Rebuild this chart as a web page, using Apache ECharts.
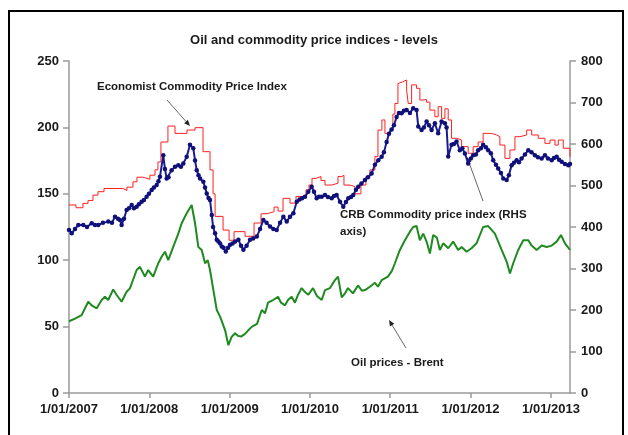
<!DOCTYPE html>
<html>
<head>
<meta charset="utf-8">
<script src="https://cdn.jsdelivr.net/npm/echarts@6/dist/echarts.min.js"></script>
<style>
  html, body { margin: 0; padding: 0; background: #fff; }
  #chart { width: 628px; height: 435px; }
</style>
</head>
<body>
<div id="chart"></div>
<script>
  // dates are decimal years
  var xTickYears = [2007, 2008, 2009, 2010, 2011, 2012, 2013];
  var xTickLabels = ['1/01/2007', '1/01/2008', '1/01/2009', '1/01/2010', '1/01/2011', '1/01/2012', '1/01/2013'];
  var leftTicks = [0, 50, 100, 150, 200, 250];
  var rightTicks = [0, 100, 200, 300, 400, 500, 600, 700, 800];

  /* Economist commodity price index (left axis, stepped) */
  var econYears = [
    2007.000, 2007.087, 2007.174, 2007.237, 2007.299, 2007.361, 2007.436, 2007.672, 2007.722, 2007.797,
    2007.847, 2007.921, 2008.008, 2008.071, 2008.108, 2008.145, 2008.232, 2008.320, 2008.469, 2008.569,
    2008.668, 2008.755, 2008.793, 2008.818, 2008.917, 2008.992, 2009.054, 2009.191, 2009.303, 2009.390,
    2009.465, 2009.552, 2009.602, 2009.664, 2009.751, 2009.826, 2009.900, 2009.950, 2009.988, 2010.025,
    2010.075, 2010.137, 2010.187, 2010.274, 2010.349, 2010.398, 2010.423, 2010.498, 2010.560, 2010.635,
    2010.697, 2010.747, 2010.809, 2010.847, 2010.896, 2010.934, 2010.996, 2011.033, 2011.058, 2011.096,
    2011.120, 2011.158, 2011.204, 2011.224, 2011.266, 2011.328, 2011.369, 2011.407, 2011.453, 2011.494,
    2011.556, 2011.597, 2011.640, 2011.681, 2011.722, 2011.764, 2011.826, 2011.889, 2011.971, 2012.033,
    2012.095, 2012.157, 2012.262, 2012.324, 2012.365, 2012.428, 2012.490, 2012.552, 2012.614, 2012.698,
    2012.760, 2012.842, 2012.925, 2012.988, 2013.050, 2013.091, 2013.153, 2013.237
  ];
  var econValues = [
    141.6, 139.5, 142.8, 145, 149, 151.6, 154, 152.5, 155, 159,
    162.5, 161, 164, 168, 174, 189, 201, 195.5, 198, 199.8,
    181.7, 168, 150, 133, 122.7, 115, 121.5, 118, 128, 135,
    136.5, 140, 137, 146.6, 143, 148, 149, 153, 156.6, 161.6,
    163, 160, 156.6, 158, 163, 164, 156.6, 155.4, 150, 156.6,
    163, 168, 178, 198, 205.6, 195.5, 198, 210, 218, 233,
    234.4, 235.7, 228, 218, 232, 229.4, 220.6, 221, 219, 213,
    208, 215.6, 206.8, 214, 205.6, 191.8, 190.5, 185.5, 180.5, 185.5,
    189, 195.5, 194.3, 193, 186.7, 176.7, 183, 193, 194.3, 198,
    194.3, 191.8, 188, 190.5, 186.7, 190.5, 184.3, 178
  ];

  /* Brent oil price (left axis) */
  var brentYears = [
    2007.000, 2007.012, 2007.075, 2007.158, 2007.240, 2007.283, 2007.345, 2007.407, 2007.448, 2007.489,
    2007.551, 2007.594, 2007.656, 2007.718, 2007.759, 2007.843, 2007.884, 2007.946, 2007.987, 2008.049,
    2008.112, 2008.154, 2008.195, 2008.236, 2008.298, 2008.361, 2008.403, 2008.465, 2008.527, 2008.569,
    2008.610, 2008.652, 2008.693, 2008.727, 2008.755, 2008.796, 2008.839, 2008.880, 2008.942, 2008.983,
    2009.025, 2009.067, 2009.104, 2009.141, 2009.191, 2009.228, 2009.278, 2009.340, 2009.399, 2009.440,
    2009.477, 2009.540, 2009.602, 2009.639, 2009.689, 2009.726, 2009.772, 2009.813, 2009.851, 2009.897,
    2009.938, 2009.979, 2010.037, 2010.087, 2010.146, 2010.187, 2010.249, 2010.311, 2010.349, 2010.395,
    2010.436, 2010.473, 2010.535, 2010.598, 2010.647, 2010.685, 2010.747, 2010.809, 2010.847, 2010.893,
    2010.971, 2011.021, 2011.058, 2011.120, 2011.183, 2011.245, 2011.286, 2011.328, 2011.369, 2011.411,
    2011.453, 2011.494, 2011.535, 2011.581, 2011.618, 2011.660, 2011.722, 2011.784, 2011.846, 2011.889,
    2011.951, 2012.013, 2012.075, 2012.157, 2012.220, 2012.303, 2012.387, 2012.449, 2012.490, 2012.531,
    2012.593, 2012.656, 2012.718, 2012.760, 2012.822, 2012.884, 2012.947, 2013.009, 2013.071, 2013.125,
    2013.174, 2013.237
  ];
  var brentValues = [
    54, 52.5, 56, 58.7, 68.7, 66, 63.8, 70, 72.5, 70,
    78, 73.8, 68.7, 76.3, 78.8, 92.6, 95, 87.6, 92.6, 87.6,
    97.7, 102.6, 106.4, 100, 110, 120, 127.8, 135.3, 141.6, 127.8,
    110, 107.7, 97.7, 100, 92.6, 77.6, 62.5, 57.5, 47.4, 36,
    42.4, 45, 43, 42.5, 44.5, 47, 50, 52, 62.5, 60,
    68, 70, 72.5, 68, 66, 70, 72.5, 68, 74, 79,
    76, 74, 79, 73, 70, 77.5, 79, 85, 87.6, 72,
    75, 79, 75, 81, 77, 77.5, 80, 83, 80, 85,
    87.6, 92, 97.7, 107.7, 115, 121.5, 125, 125.7, 115, 120,
    114, 105, 119, 117, 107.7, 112.7, 109, 114, 107.7, 110,
    106.4, 109, 112.7, 125, 125.7, 120, 107.7, 99, 90, 97.7,
    107.7, 115, 115, 111, 107.7, 111, 110, 111, 114, 119,
    112.7, 107.7
  ];

  /* CRB commodity price index (right axis) */
  var crbYears = [
    2007.000, 2007.034, 2007.075, 2007.116, 2007.178, 2007.224, 2007.283, 2007.324, 2007.365, 2007.423,
    2007.489, 2007.535, 2007.573, 2007.610, 2007.635, 2007.656, 2007.685, 2007.718, 2007.747, 2007.781,
    2007.809, 2007.843, 2007.871, 2007.905, 2007.934, 2007.967, 2007.996, 2008.030, 2008.058, 2008.092,
    2008.114, 2008.133, 2008.174, 2008.195, 2008.216, 2008.239, 2008.278, 2008.320, 2008.361, 2008.394,
    2008.423, 2008.465, 2008.506, 2008.547, 2008.569, 2008.590, 2008.612, 2008.631, 2008.672, 2008.693,
    2008.714, 2008.736, 2008.755, 2008.777, 2008.793, 2008.818, 2008.839, 2008.859, 2008.880, 2008.901,
    2008.923, 2008.951, 2008.979, 2009.004, 2009.035, 2009.067, 2009.108, 2009.141, 2009.170, 2009.210,
    2009.253, 2009.291, 2009.337, 2009.378, 2009.419, 2009.459, 2009.502, 2009.543, 2009.585, 2009.627,
    2009.668, 2009.710, 2009.751, 2009.793, 2009.835, 2009.869, 2009.901, 2009.938, 2009.979, 2010.021,
    2010.050, 2010.083, 2010.112, 2010.146, 2010.187, 2010.224, 2010.270, 2010.299, 2010.332, 2010.374,
    2010.415, 2010.448, 2010.477, 2010.511, 2010.539, 2010.573, 2010.601, 2010.641, 2010.685, 2010.722,
    2010.768, 2010.809, 2010.851, 2010.893, 2010.921, 2010.955, 2010.984, 2011.017, 2011.046, 2011.079,
    2011.108, 2011.141, 2011.170, 2011.204, 2011.245, 2011.286, 2011.328, 2011.349, 2011.390, 2011.419,
    2011.453, 2011.482, 2011.515, 2011.556, 2011.597, 2011.640, 2011.681, 2011.702, 2011.722, 2011.764,
    2011.793, 2011.826, 2011.867, 2011.898, 2011.930, 2011.971, 2012.004, 2012.033, 2012.067, 2012.095,
    2012.129, 2012.157, 2012.191, 2012.220, 2012.253, 2012.282, 2012.316, 2012.344, 2012.378, 2012.407,
    2012.449, 2012.477, 2012.511, 2012.540, 2012.573, 2012.602, 2012.635, 2012.677, 2012.718, 2012.758,
    2012.801, 2012.838, 2012.884, 2012.925, 2012.963, 2013.009, 2013.037, 2013.071, 2013.100, 2013.133,
    2013.174, 2013.216, 2013.237
  ];
  var crbValues = [
    393, 385, 395, 405, 405, 400, 409, 405, 405, 410,
    413, 410, 425, 420, 417, 405, 420, 441, 445, 453,
    445, 449, 455, 461, 465, 473, 480, 489, 495, 501,
    510, 521, 573, 540, 517, 520, 537, 545, 549, 545,
    553, 569, 598, 590, 560, 537, 525, 517, 509, 495,
    481, 470, 465, 429, 400, 385, 369, 365, 360, 353,
    350, 341, 350, 357, 360, 365, 369, 355, 345, 355,
    369, 372, 377, 395, 417, 410, 401, 395, 393, 410,
    425, 413, 425, 433, 461, 466, 469, 473, 485, 497,
    485, 469, 473, 473, 477, 472, 469, 475, 477, 461,
    449, 460, 469, 472, 477, 490, 497, 505, 513, 520,
    529, 550, 561, 569, 580, 605, 625, 635, 645, 665,
    675, 674, 680, 682, 675, 686, 682, 642, 634, 640,
    654, 645, 634, 650, 626, 654, 650, 640, 570, 598,
    600, 606, 585, 590, 577, 553, 565, 573, 575, 585,
    590, 598, 592, 585, 578, 561, 550, 541, 530, 517,
    513, 525, 549, 555, 561, 556, 565, 575, 585, 580,
    573, 568, 565, 573, 565, 561, 566, 569, 562, 557,
    552, 549, 552
  ];

  /* 小数年份 -> 时间戳 */
  function yearToTime(y) {
    var yr = Math.floor(y);
    var start = Date.UTC(yr, 0, 1), end = Date.UTC(yr + 1, 0, 1);
    return start + (y - yr) * (end - start);
  }

  function pairs(years, values) {
    var out = [];
    years.forEach(function (y, i) { out.push([yearToTime(y), values[i]]); });
    return out;
  }

  var tickTimes = xTickYears.map(yearToTime);
  var font = '"Liberation Sans", Arial, sans-serif';
  var textColor = '#1a1a1a';
  var axisGrey = '#9a9a9a';

  function arrow(x1, y1, x2, y2) {
    var ang = Math.atan2(y2 - y1, x2 - x1), len = 6, w = 2.5;
    var bx = x2 - len * Math.cos(ang), by = y2 - len * Math.sin(ang);
    return {
      type: 'group',
      children: [
        { type: 'line', shape: { x1: x1, y1: y1, x2: bx, y2: by }, style: { stroke: '#666', lineWidth: 1 } },
        {
          type: 'polygon',
          shape: { points: [[x2, y2], [bx + w * Math.sin(ang), by - w * Math.cos(ang)], [bx - w * Math.sin(ang), by + w * Math.cos(ang)]] },
          style: { fill: '#222' }
        }
      ]
    };
  }

  function label(text, x, y) {
    return {
      type: 'text', x: x, y: y,
      style: { text: text, font: 'bold 11.5px ' + font, fill: textColor, lineHeight: 17, textVerticalAlign: 'middle' }
    };
  }

  var chart = echarts.init(document.getElementById('chart'));

  chart.setOption({
    animation: false,
    backgroundColor: '#fff',
    title: {
      text: 'Oil and commodity price indices - levels',
      left: 'center', top: 34, padding: 0,
      textStyle: { fontFamily: font, fontSize: 13, fontWeight: 'bold', color: textColor }
    },
    grid: { left: 69, right: 58, top: 61, bottom: 42 },
    xAxis: {
      type: 'value',
      min: tickTimes[0],
      max: yearToTime(2013.237),
      axisLine: { lineStyle: { color: axisGrey, width: 1.5 } },
      axisTick: { show: true, length: 5, customValues: tickTimes, lineStyle: { color: axisGrey, width: 1.5 } },
      axisLabel: {
        customValues: tickTimes,
        margin: 10,
        fontFamily: font, fontSize: 13, fontWeight: 'bold', color: textColor,
        formatter: function (val) {
          var best = 0;
          tickTimes.forEach(function (t, i) { if (Math.abs(t - val) < Math.abs(tickTimes[best] - val)) best = i; });
          return xTickLabels[best];
        }
      },
      splitLine: { show: false }
    },
    yAxis: [
      {
        type: 'value', position: 'left',
        min: leftTicks[0], max: leftTicks[leftTicks.length - 1], interval: 50,
        axisLine: { show: true, lineStyle: { color: axisGrey, width: 1.5 } },
        axisTick: { show: true, length: 6, lineStyle: { color: axisGrey, width: 1.5 } },
        axisLabel: { margin: 10, fontFamily: font, fontSize: 13, fontWeight: 'bold', color: textColor },
        splitLine: { show: false }
      },
      {
        type: 'value', position: 'right',
        min: rightTicks[0], max: rightTicks[rightTicks.length - 1], interval: 100,
        axisLine: { show: true, lineStyle: { color: axisGrey, width: 1.5 } },
        axisTick: { show: true, length: 6, lineStyle: { color: axisGrey, width: 1.5 } },
        axisLabel: { margin: 11, fontFamily: font, fontSize: 13, fontWeight: 'bold', color: textColor },
        splitLine: { show: false }
      }
    ],
    series: [
      {
        name: 'Economist Commodity Price Index', type: 'line', yAxisIndex: 0,
        step: 'end', showSymbol: false,
        lineStyle: { color: '#ff2020', width: 1 },
        data: pairs(econYears, econValues)
      },
      {
        name: 'Oil prices - Brent', type: 'line', yAxisIndex: 0,
        showSymbol: false,
        lineStyle: { color: '#1f8a1f', width: 2 },
        data: pairs(brentYears, brentValues)
      },
      {
        name: 'CRB Commodity price index', type: 'line', yAxisIndex: 1,
        symbol: 'circle', symbolSize: 4.5, showSymbol: true,
        itemStyle: { color: '#10107a' },
        lineStyle: { color: '#1c1c90', width: 2 },
        data: pairs(crbYears, crbValues)
      }
    ],
    graphic: [
      { type: 'rect', shape: { x: 9, y: 11, width: 614, height: 440 }, style: { fill: 'none', stroke: '#000', lineWidth: 2 }, silent: true },
      label('Economist Commodity Price Index', 97, 87),
      arrow(167, 100, 190, 126),
      label('CRB Commodity price index (RHS\naxis)', 340, 223),
      arrow(483, 201, 467, 157),
      label('Oil prices - Brent', 351, 363),
      arrow(406, 348, 389, 320)
    ]
  });
</script>
</body>
</html>
